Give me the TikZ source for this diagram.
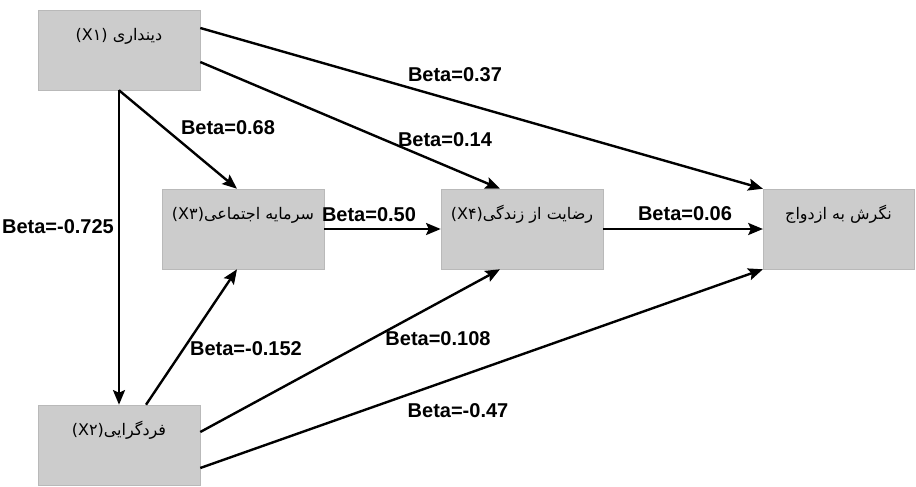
\documentclass[tikz,border=0pt]{standalone}
\usepackage{fontspec}
\setmainfont{Liberation Sans}
\newfontfamily\arabicfont[Script=Arabic]{DejaVu Sans}
\TeXXeTstate=1
\usetikzlibrary{arrows.meta,calc,shadows}
\newcommand{\fa}[1]{{\arabicfont\beginR #1\endR}}

\begin{document}
\begin{tikzpicture}[x=0.75pt,y=-0.75pt,
    box/.style={draw=gray!55,fill=gray!40,minimum width=121.5pt,minimum height=60pt,
      text height=10pt,text depth=24pt,font=\fontsize{12}{14}\selectfont,
      drop shadow={shadow xshift=1pt,shadow yshift=-1pt,opacity=0.3}},
    arr/.style={draw,line width=1.8pt,-{Stealth[length=11pt,width=9pt,inset=2pt]}},
    beta/.style={font=\fontsize{15}{17}\selectfont\bfseries}]
  \useasboundingbox (0,0) rectangle (916,486);
  % variables
  \node[box] (x1) at (119,50) {\fa{دینداری \beginL(X۱)\endL}};
  \node[box] (x2) at (119,445) {\fa{فردگرایی\beginL(X۲)\endL}};
  \node[box] (x3) at (243,229) {\fa{سرمایه اجتماعی\beginL(X۳)\endL}};
  \node[box] (x4) at (522,229) {\fa{رضایت از زندگی\beginL(X۴)\endL}};
  \node[box,minimum width=113pt] (y) at (838.5,229) {\fa{نگرش به ازدواج}};
  % paths
  \draw[arr] ($(x1.east)+(0,-22)$) -- (y.north west);
  \draw[arr] ($(x1.east)+(0,12)$) -- ($(x4.north)+(-22,0)$);
  \draw[arr] (x1.south) -- ($(x3.north)+(-6,0)$);
  \draw[arr] (x1.south) -- (x2.north);
  \draw[arr] (x3.east) -- (x4.west);
  \draw[arr] (x4.east) -- (y.west);
  \draw[arr] ($(x2.north)+(27,0)$) -- ($(x3.south)+(-6,0)$);
  \draw[arr] ($(x2.east)+(0,-13)$) -- ($(x4.south)+(-22,0)$);
  \draw[arr] ($(x2.east)+(0,23)$) -- (y.south west);
  % coefficients
  \node[beta] (b1y) at (455,75) {Beta=0.37};
  \node[beta] (b14) at (445,140) {Beta=0.14};
  \node[beta] (b13) at (228,128) {Beta=0.68};
  \node[beta] (b12) at (58,227) {Beta=-0.725};
  \node[beta] (b34) at (369,215) {Beta=0.50};
  \node[beta] (b4y) at (685,214) {Beta=0.06};
  \node[beta] (b23) at (246,349) {Beta=-0.152};
  \node[beta] (b24) at (438,339) {Beta=0.108};
  \node[beta] (b2y) at (458,411) {Beta=-0.47};
\end{tikzpicture}
\end{document}
